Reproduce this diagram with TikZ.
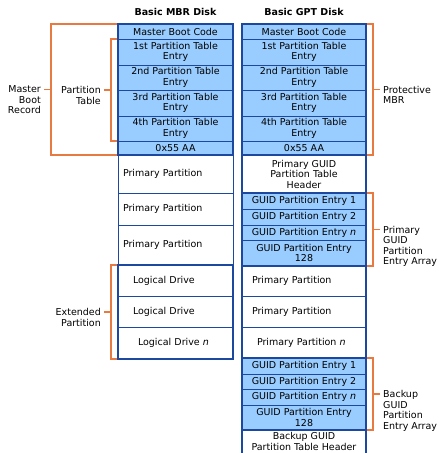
\documentclass[tikz,border=0pt]{standalone}
\usepackage{fontspec}
\setmainfont{DejaVu Sans}
\usetikzlibrary{positioning,calc}
\definecolor{diskblue}{RGB}{153,204,255}
\definecolor{diskline}{RGB}{28,72,160}
\definecolor{bracecol}{RGB}{230,122,64}
\newcommand{\dskfont}{\fontsize{9.5}{10.5}\selectfont}
\tikzset{
  cell/.style={draw=diskline, line width=0.7pt, inner ysep=0pt, inner xsep=3pt, outer sep=0pt, align=center, font=\dskfont},
  mc/.style={cell, minimum width=115pt},
  gc/.style={cell, minimum width=124pt},
  fb/.style={fill=diskblue},
  pad/.style 2 args={align=left, inner xsep=#1, text width=#2},
  grp/.style={draw=diskline, line width=1.6pt},
  brk/.style={draw=bracecol, line width=1.4pt},
  lbl/.style={inner sep=0pt, font=\dskfont},
}

\begin{document}
\begin{tikzpicture}[x=1pt,y=-1pt]
  \useasboundingbox (0,0) rectangle (439,453);

  % basic MBR disk
  \node[mc, fb, minimum height=15pt, anchor=north west] (m1) at (118,24) {Master Boot Code};
  \node[mc, fb, minimum height=26pt, below=0pt of m1] (m2) {1st Partition Table\\Entry};
  \node[mc, fb, minimum height=25pt, below=0pt of m2] (m3) {2nd Partition Table\\Entry};
  \node[mc, fb, minimum height=26pt, below=0pt of m3] (m4) {3rd Partition Table\\Entry};
  \node[mc, fb, minimum height=25pt, below=0pt of m4] (m5) {4th Partition Table\\Entry};
  \node[mc, fb, minimum height=14pt, below=0pt of m5] (m6) {0x55 AA};
  \node[mc, pad={5pt}{105pt}, minimum height=38pt, below=0pt of m6] (m7) {Primary Partition};
  \node[mc, pad={5pt}{105pt}, minimum height=32pt, below=0pt of m7] (m8) {Primary Partition};
  \node[mc, pad={5pt}{105pt}, minimum height=40pt, below=0pt of m8] (m9) {Primary Partition};
  \node[mc, pad={15pt}{85pt}, minimum height=31pt, below=0pt of m9] (m10) {Logical Drive};
  \node[mc, pad={15pt}{85pt}, minimum height=31pt, below=0pt of m10] (m11) {Logical Drive};
  \node[mc, pad={20pt}{75pt}, minimum height=32pt, below=0pt of m11] (m12) {Logical Drive \textit{n}};
  \node[lbl, font=\dskfont\bfseries, above=8pt of m1] (mbrtitle) {Basic MBR Disk};

  % basic GPT disk
  \node[gc, fb, minimum height=15pt, anchor=north west] (g1) at (242,24) {Master Boot Code};
  \node[gc, fb, minimum height=26pt, below=0pt of g1] (g2) {1st Partition Table\\Entry};
  \node[gc, fb, minimum height=25pt, below=0pt of g2] (g3) {2nd Partition Table\\Entry};
  \node[gc, fb, minimum height=26pt, below=0pt of g3] (g4) {3rd Partition Table\\Entry};
  \node[gc, fb, minimum height=25pt, below=0pt of g4] (g5) {4th Partition Table\\Entry};
  \node[gc, fb, minimum height=14pt, below=0pt of g5] (g6) {0x55 AA};
  \node[gc, minimum height=38pt, below=0pt of g6] (g7) {Primary GUID\\Partition Table\\Header};
  \node[gc, fb, minimum height=16pt, below=0pt of g7] (g8) {GUID Partition Entry 1};
  \node[gc, fb, minimum height=16pt, below=0pt of g8] (g9) {GUID Partition Entry 2};
  \node[gc, fb, minimum height=15pt, below=0pt of g9] (g10) {GUID Partition Entry \textit{n}};
  \node[gc, fb, minimum height=26pt, below=0pt of g10] (g11) {GUID Partition Entry\\128};
  \node[gc, pad={10pt}{104pt}, minimum height=30pt, below=0pt of g11] (g12) {Primary Partition};
  \node[gc, pad={10pt}{104pt}, minimum height=31pt, below=0pt of g12] (g13) {Primary Partition};
  \node[gc, pad={15pt}{94pt}, minimum height=31pt, below=0pt of g13] (g14) {Primary Partition \textit{n}};
  \node[gc, fb, minimum height=16pt, below=0pt of g14] (g15) {GUID Partition Entry 1};
  \node[gc, fb, minimum height=15pt, below=0pt of g15] (g16) {GUID Partition Entry 2};
  \node[gc, fb, minimum height=16pt, below=0pt of g16] (g17) {GUID Partition Entry \textit{n}};
  \node[gc, fb, minimum height=25pt, below=0pt of g17] (g18) {GUID Partition Entry\\128};
  \node[gc, minimum height=28pt, text depth=5pt, below=0pt of g18] (g19) {Backup GUID\\Partition Table Header};
  \node[lbl, font=\dskfont\bfseries, above=8pt of g1] (gpttitle) {Basic GPT Disk};

  % brackets on the left
  \draw[brk] (m1.north west) -- ++(-67pt,0) coordinate (mbrT) -- (mbrT |- m6.south west) coordinate (mbrB) -- (m6.south west);
  \coordinate (mbrM) at ($(mbrT)!.5!(mbrB)$);
  \node[lbl, align=right, anchor=north east] (mbrL) at ([xshift=-10pt,yshift=3.8pt]mbrM) {Master\\Boot\\Record};
  \draw[brk] (mbrM) -- ($(mbrM -| mbrL.east)+(3pt,0)$);

  \draw[brk] (m2.north west) -- ++(-7pt,0) coordinate (ptT) -- (ptT |- m5.south west) coordinate (ptB) -- (m5.south west);
  \coordinate (ptM) at ($(ptT)!.5!(ptB)$);
  \node[lbl, align=right, anchor=north east] (ptL) at ([xshift=-10pt,yshift=3.8pt]ptM) {Partition\\Table};
  \draw[brk] (ptM) -- ($(ptM -| ptL.east)+(3pt,0)$);

  \draw[brk] (m10.north west) -- ++(-7pt,0) coordinate (exT) -- (exT |- m12.south west) coordinate (exB) -- (m12.south west);
  \coordinate (exM) at ($(exT)!.5!(exB)$);
  \node[lbl, align=right, anchor=north east] (exL) at ([xshift=-10pt,yshift=3.8pt]exM) {Extended\\Partition};
  \draw[brk] (exM) -- ($(exM -| exL.east)+(3pt,0)$);

  % brackets on the right
  \draw[brk] (g1.north east) -- ++(7pt,0) coordinate (pmT) -- (pmT |- g6.south east) coordinate (pmB) -- (g6.south east);
  \coordinate (pmM) at ($(pmT)!.5!(pmB)$);
  \node[lbl, align=left, anchor=north west] (pmL) at ([xshift=10pt,yshift=3.8pt]pmM) {Protective\\MBR};
  \draw[brk] (pmM) -- ($(pmM -| pmL.west)+(-3pt,0)$);

  \draw[brk] (g8.north east) -- ++(7pt,0) coordinate (paT) -- (paT |- g11.south east) coordinate (paB) -- (g11.south east);
  \coordinate (paM) at ($(paT)!.5!(paB)$);
  \node[lbl, align=left, anchor=north west] (paL) at ([xshift=10pt,yshift=3.8pt]paM) {Primary\\GUID\\Partition\\Entry Array};
  \draw[brk] (paM) -- ($(paM -| paL.west)+(-3pt,0)$);

  \draw[brk] (g15.north east) -- ++(7pt,0) coordinate (baT) -- (baT |- g18.south east) coordinate (baB) -- (g18.south east);
  \coordinate (baM) at ($(baT)!.5!(baB)$);
  \node[lbl, align=left, anchor=north west] (baL) at ([xshift=10pt,yshift=3.8pt]baM) {Backup\\GUID\\Partition\\Entry Array};
  \draw[brk] (baM) -- ($(baM -| baL.west)+(-3pt,0)$);

  % heavy outlines
  \draw[grp] (m1.north west) rectangle (m6.south east);
  \draw[grp] (m10.north west) rectangle (m12.south east);
  \draw[grp, line width=1.2pt] (g1.north west) rectangle (g19.south east);
  \draw[grp] (g1.north west) rectangle (g6.south east);
  \draw[grp] (g8.north west) rectangle (g11.south east);
  \draw[grp] (g15.north west) rectangle (g18.south east);
\end{tikzpicture}
\end{document}
